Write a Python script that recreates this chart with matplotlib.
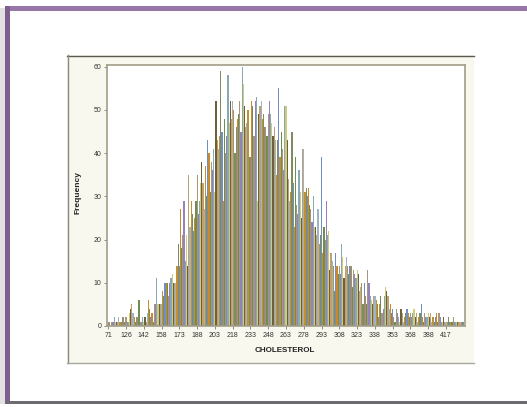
import matplotlib
matplotlib.use("Agg")
import matplotlib.pyplot as plt
from matplotlib.patches import Rectangle

# ---- data ----
tick_labels = ["71", "126", "142", "158", "173", "188", "203", "218", "233", "248",
               "263", "278", "293", "308", "323", "338", "353", "368", "388", "417"]
ticks_every = 15

freq_b0 = [1, 1, 0, 1, 1, 2, 1, 1, 1, 2, 1, 1, 2, 2, 1]
freq_b1 = [2, 1, 1, 3, 4, 5, 3, 2, 1, 2, 2, 6, 1, 1, 2]
freq_b2 = [1, 2, 1, 3, 6, 4, 2, 3, 1, 5, 5, 11, 5, 5, 5]
freq_b3 = [5, 8, 7, 10, 10, 10, 7, 10, 11, 12, 10, 10, 10, 14, 19]
freq_b4 = [14, 27, 18, 21, 29, 15, 21, 14, 35, 23, 29, 26, 22, 25, 29]
freq_b5 = [35, 26, 29, 33, 38, 33, 27, 37, 30, 43, 40, 31, 38, 36, 41]
freq_b6 = [31, 52, 43, 41, 44, 59, 45, 29, 48, 40, 44, 58, 47, 52, 48]
freq_b7 = [52, 50, 40, 46, 48, 49, 52, 45, 60, 56, 51, 46, 47, 50, 39]
freq_b8 = [39, 52, 51, 44, 52, 53, 29, 49, 51, 52, 48, 49, 46, 46, 44]
freq_b9 = [49, 52, 49, 47, 44, 46, 43, 35, 43, 55, 39, 45, 41, 36, 51]
freq_b10 = [51, 43, 34, 29, 31, 45, 33, 23, 39, 28, 26, 36, 31, 25, 41]
freq_b11 = [41, 31, 32, 30, 32, 28, 27, 24, 30, 23, 23, 21, 27, 19, 21]
freq_b12 = [39, 17, 23, 20, 29, 21, 22, 13, 17, 15, 14, 8, 17, 14, 12]
freq_b13 = [14, 12, 19, 16, 11, 14, 16, 14, 12, 14, 14, 9, 13, 12, 11]
freq_b14 = [13, 12, 8, 9, 10, 5, 10, 7, 5, 13, 10, 7, 6, 5, 7]
freq_b15 = [7, 6, 5, 2, 5, 7, 3, 4, 7, 9, 8, 7, 4, 5, 3]
freq_b16 = [4, 2, 1, 4, 3, 2, 1, 4, 3, 1, 2, 3, 4, 3, 2]
freq_b17 = [3, 2, 3, 4, 2, 3, 1, 2, 3, 5, 2, 1, 3, 2, 2]
freq_b18 = [3, 2, 3, 1, 2, 1, 2, 3, 1, 3, 2, 1, 1, 2, 1]
freq_b19 = [1, 1, 2, 1, 1, 1, 2, 1, 1, 1, 1, 1, 1, 1, 1, 1]

freq = (freq_b0 + freq_b1 + freq_b2 + freq_b3 + freq_b4 + freq_b5 + freq_b6 +
        freq_b7 + freq_b8 + freq_b9 + freq_b10 + freq_b11 + freq_b12 + freq_b13 +
        freq_b14 + freq_b15 + freq_b16 + freq_b17 + freq_b18 + freq_b19)
categories = list(range(len(freq)))

palette = ['#6f8fc4', '#c98a2c', '#6f8d4e', '#a8967a', '#9682bb', '#86aab4',
           '#cfcb78', '#6e6038', '#bfa072', '#9fb3c8', '#c2902f', '#7f8c5c']

W, H = 527, 407
fig = plt.figure(figsize=(W / 100, H / 100), dpi=100)
fig.patch.set_facecolor('white')

# background decoration in pixel coordinates
bg = fig.add_axes([0, 0, 1, 1])
bg.set_xlim(0, W)
bg.set_ylim(H, 0)
bg.axis('off')
# left shadow
bg.add_patch(Rectangle((0, 8), 5, 396, facecolor='#e2e2e2', edgecolor='none'))
# purple frame bands
bg.add_patch(Rectangle((5, 6), W - 5, 5, facecolor='#9677a5', edgecolor='none'))
bg.add_patch(Rectangle((5, 6), 5, 397, facecolor='#7f5f90', edgecolor='none'))
bg.add_patch(Rectangle((5, 401), W - 5, 3, facecolor='#6d6a72', edgecolor='none'))
# chart panel
bg.add_patch(Rectangle((67, 55), 407, 308, facecolor='#f9f8ef', edgecolor='none'))
bg.plot([67, 474], [55.5, 55.5], color='#5a5a55', lw=1.0)
bg.plot([67.5, 67.5], [55, 363], color='#8a8a85', lw=1.0)
bg.plot([67, 474], [362.5, 362.5], color='#a8a8a0', lw=1.0)

# main axes
left, right, top, bottom = 107, 465, 65, 326
ax = fig.add_axes([left / W, (H - bottom) / H, (right - left) / W, (bottom - top) / H])
ax.set_facecolor('white')
colors = [palette[i % len(palette)] for i in categories]
ax.bar(categories, freq, width=1.0, color=colors, linewidth=0)
ax.set_xlim(-1.0, len(freq) - 0.0)
ax.set_ylim(0, 60.4)

ax.set_xticks(categories[::ticks_every][:len(tick_labels)])
ax.set_xticklabels(tick_labels)
ax.set_yticks([0, 10, 20, 30, 40, 50, 60])
ax.tick_params(axis='both', labelsize=5, colors='#333333', length=2.5, width=0.6,
               pad=1.5, direction='out')
ax.tick_params(axis='both', color='#777777')
for lab in ax.get_xticklabels() + ax.get_yticklabels():
    lab.set_family('Liberation Sans')
for sp in ax.spines.values():
    sp.set_color('#a39d88')
    sp.set_linewidth(1.2)

fig.text(285 / W, 1 - 350 / H, 'CHOLESTEROL', ha='center', va='center',
         fontsize=5.8, fontweight='bold', family='Liberation Sans', color='#222222')
fig.text(78 / W, 1 - 193 / H, 'Frequency', ha='center', va='center', rotation=90,
         fontsize=6, fontweight='bold', family='Liberation Sans', color='#222222')

fig.savefig('out.png', dpi=100, facecolor='white')
